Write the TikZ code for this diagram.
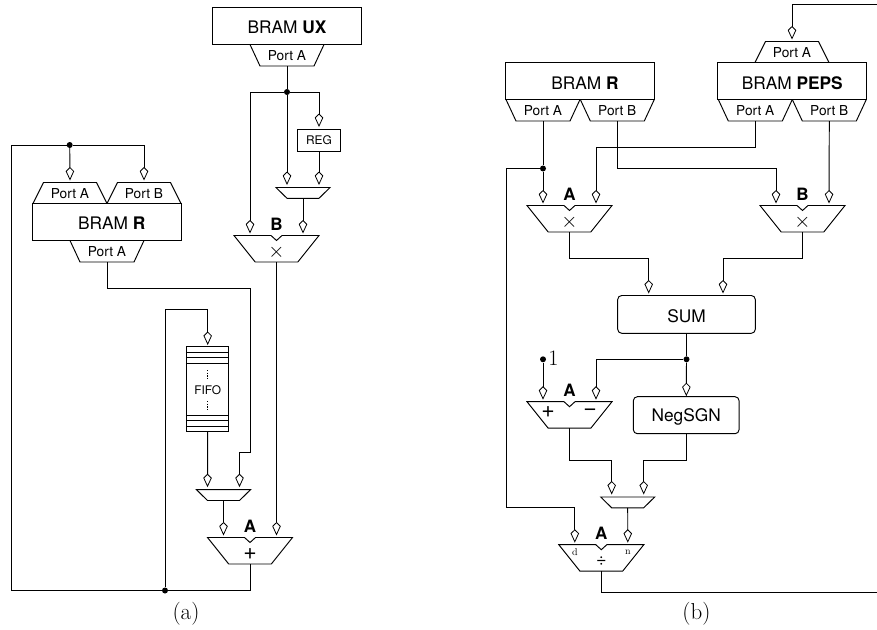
\documentclass[tikz,border=0pt]{standalone}
\usepackage{fontspec}
\setsansfont{TeX Gyre Heros}
\usetikzlibrary{arrows.meta,calc}
\newcommand{\fs}[1]{\fontsize{#1}{#1}\selectfont}
\tikzset{
  x=1pt,y=-1pt,
  shape line/.style={draw=black,line width=0.95pt,line join=miter},
  wire/.style={draw=black,line width=0.95pt},
  inwire/.style={wire,-{Kite[length=13.5pt,width=8.5pt,inset=4.2pt,fill=white,line width=0.8pt]}},
  junction/.style={circle,fill=black,inner sep=0pt,minimum size=6pt},
  lbl/.style={inner sep=0pt,font=\sffamily\fs{17.3}},
  portlbl/.style={inner sep=0pt,font=\sffamily\fs{13.7}},
  smalllbl/.style={inner sep=0pt,font=\sffamily\fs{11.9}},
  oplbl/.style={inner sep=0pt,font=\sffamily\fs{23}},
  crosslbl/.style={inner sep=0pt,font=\fs{20}},
  unitlbl/.style={inner sep=0pt,font=\sffamily\bfseries\fs{17}},
  tinylbl/.style={inner sep=0pt,font=\fs{10}},
  caplbl/.style={inner sep=0pt,font=\fs{23}},
  bram/.style={shape line,rectangle,inner sep=0pt,minimum width=149pt,minimum height=37pt,anchor=center},
  rbox/.style={shape line,rectangle,rounded corners=4pt,inner sep=0pt},
}
% port below a memory: name, centre x, top y
\newcommand{\portdown}[3]{\begin{scope}[shift={(#2,#3)}]
  \draw[shape line] (-37,0) -- (-27,21.5) -- (27,21.5) -- (37,0);
  \node[portlbl] (#1) at (0,11.2) {Port A};
  \coordinate (#1-o) at (0,21.5);
\end{scope}}
\newcommand{\portdownB}[3]{\begin{scope}[shift={(#2,#3)}]
  \draw[shape line] (-37,0) -- (-27,21.5) -- (27,21.5) -- (37,0);
  \node[portlbl] (#1) at (0,11.2) {Port B};
  \coordinate (#1-o) at (0,21.5);
\end{scope}}
% port above a memory: name, centre x, bottom y, text
\newcommand{\portup}[4]{\begin{scope}[shift={(#2,#3)}]
  \draw[shape line] (-37,0) -- (-26.5,-21) -- (26.5,-21) -- (37,0);
  \node[portlbl] (#1) at (0,-10) {#4};
  \coordinate (#1-i) at (0,-23);
\end{scope}}
% arithmetic unit: name, centre x, top y, letter
\newcommand{\alu}[4]{\begin{scope}[shift={(#2,#3)}]
  \draw[shape line] (-42.5,0) -- (-5.5,0) -- (0,5) -- (5.5,0) -- (42.5,0) -- (21.3,26.5) -- (-21.3,26.5) -- cycle;
  \node[unitlbl] (#1-name) at (0,-11.5) {#4};
  \coordinate (#1-l) at (-26.5,-2);
  \coordinate (#1-r) at (26.5,-2);
  \coordinate (#1-o) at (0,26.5);
\end{scope}}
% small multiplexer: name, centre x, top y
\newcommand{\muxunit}[3]{\begin{scope}[shift={(#2,#3)}]
  \draw[shape line] (-27,0) -- (27,0) -- (16,10.8) -- (-16,10.8) -- cycle;
  \coordinate (#1-l) at (-16,-2.5);
  \coordinate (#1-r) at (16,-2.5);
  \coordinate (#1-o) at (0,10.8);
\end{scope}}
\begin{document}
\begin{tikzpicture}
\useasboundingbox (0,0) rectangle (877,629);

% ---------- (a) ----------
\node[bram] (ux) at (287,26) {};
\node[lbl] (uxtext) at (287,27.7) {BRAM \textbf{UX}};
\portdown{uxA}{287}{44.5}
\node[shape line,rectangle,inner sep=0pt,minimum width=43pt,minimum height=21.5pt,font=\sffamily\fs{11.9}] (reg) at (319,140.3) {REG};
\coordinate (regin) at (319,127);
\muxunit{muxa}{303}{187.5}
\alu{mulBa}{276.5}{235.5}{B}
\node[crosslbl] (mulBaop) at (276.5,252) {$\times$};

\node[bram] (ra) at (107,222) {};
\node[lbl] (ratext) at (111.7,223.5) {BRAM \textbf{R}};
\portup{raA}{70}{203.5}{Port A}
\portup{raB}{144}{203.5}{Port B}
\portdown{raO}{107}{240.5}

% FIFO
\node[shape line,rectangle,inner sep=0pt,minimum width=42.5pt,minimum height=85pt] (fifo) at (207.7,389) {};
\node[smalllbl] (fifotext) at (207.7,390) {FIFO};
\foreach \yy in {352,357,363,415,420,426}
  \draw[shape line] (fifo.west |- 0,\yy) -- (fifo.east |- 0,\yy);
\draw[wire,line width=0.7pt,dash pattern=on 1.3pt off 1.3pt] (207.7,370) -- (207.7,379);
\draw[wire,line width=0.7pt,dash pattern=on 1.3pt off 1.3pt] (207.7,401) -- (207.7,410);
\coordinate (fifoin) at (207.7,345);

\muxunit{muxb}{223.5}{489.7}
\alu{adda}{250}{537.5}{A}
\node[oplbl] (addaop) at (250,554) {+};

\node[junction] (j1) at (287,92) {};
\node[junction] (j2) at (69.7,145) {};
\node[junction] (j3) at (165,590.5) {};

\draw[wire] (uxA-o) -- (j1);
\draw[inwire] (j1) -| (mulBa-l);
\draw[inwire] (j1) -- (muxa-l);
\draw[inwire] (j1) -| (regin);
\draw[inwire] (reg) -- (muxa-r);
\draw[inwire] (muxa-o) -- (mulBa-r);
\draw[inwire] (mulBa-o) -- (adda-r);
\draw[inwire] (muxb-o) -- (adda-l);
\draw[wire] (adda-o) |- (j3);
\draw[wire] (j3) -- (11.5,590.5) |- (j2);
\draw[inwire] (j2) -- (raA-i);
\draw[inwire] (j2) -| (raB-i);
\draw[inwire] (j3) |- (207.7,309.7) -- (fifoin);
\draw[inwire] (raO-o) |- (250,288) -- (250,452) -| (muxb-r);
\draw[inwire] (fifo.south) -- (muxb-l);
\node[caplbl] (capa) at (186,614) {(a)};

% ---------- (b) ----------
\node[bram] (rb) at (580,81) {};
\node[lbl] (rbtext) at (585,83) {BRAM \textbf{R}};
\portdown{rbA}{543}{99.5}
\portdownB{rbB}{617.3}{99.5}
\node[bram] (pe) at (792.3,81) {};
\node[lbl] (petext) at (792.3,83) {BRAM \textbf{PEPS}};
\portup{peT}{792}{62.5}{Port A}
\portdown{peA}{755.3}{99.5}
\portdownB{peB}{829.3}{99.5}

\alu{mulAb}{569.5}{205.5}{A}
\node[crosslbl] (mulAbop) at (569.5,222) {$\times$};
\alu{mulBb}{802.5}{205.5}{B}
\node[crosslbl] (mulBbop) at (802.5,222) {$\times$};

\node[rbox,minimum width=137.6pt,minimum height=37.8pt] (sum) at (686.5,314.4) {};
\node[lbl] (sumtext) at (686.5,316.3) {SUM};
\coordinate (suml) at (648.7,293.5);
\coordinate (sumr) at (723,293.5);

\node[junction] (j4) at (543,168.5) {};
\node[junction] (j5) at (686.5,359.3) {};
\node[junction] (one) at (543,359.3) {};
\node[inner sep=0pt,font=\fs{22}] (onetext) at (553.5,358) {1};

\alu{sub}{569.5}{401.7}{A}
\node[oplbl] (subp) at (548,412) {+};
\node[oplbl] (subm) at (590,412) {−};
\node[rbox,minimum width=105.7pt,minimum height=37pt] (neg) at (686.2,415.2) {};
\node[lbl] (negtext) at (686.2,417) {NegSGN};

\muxunit{muxc}{627.7}{497}
\alu{div}{601.3}{544.7}{A}
\node[oplbl,font=\sffamily\fs{18}] (divop) at (601.3,561) {÷};
\node[tinylbl] (divd) at (574.8,552) {d};
\node[tinylbl] (divn) at (627.8,552) {n};

\coordinate (edgeT) at (877,4.3);
\coordinate (edgeB) at (877,592.7);

\draw[inwire] (edgeT) -| (peT-i);
\draw[wire] (rbA-o) -- (j4);
\draw[inwire] (j4) -- (mulAb-l);
\draw[inwire] (peA-o) |- (596,147) -- (mulAb-r);
\draw[inwire] (rbB-o) |- (776,168.5) -- (mulBb-l);
\draw[inwire] (peB-o) -- (mulBb-r);
\draw[inwire] (mulAb-o) |- (648.7,258) -- (suml);
\draw[inwire] (mulBb-o) |- (723,258) -- (sumr);
\draw[wire] (sum) -- (j5);
\draw[inwire] (j5) -| (sub-r);
\draw[inwire] (j5) -- (neg);
\draw[inwire] (one) -- (sub-l);
\draw[inwire] (sub-o) |- (muxc-l |- 0,460.3) -- (muxc-l);
\draw[inwire] (neg) |- (muxc-r |- 0,460.3) -- (muxc-r);
\draw[inwire] (muxc-o) -- (div-r);
\draw[inwire] (j4) -- (506,168.5) |- (574.8,507.7) -- (div-l);
\draw[wire] (div-o) |- (edgeB);
\node[caplbl] (capb) at (696.5,614) {(b)};
\end{tikzpicture}
\end{document}
